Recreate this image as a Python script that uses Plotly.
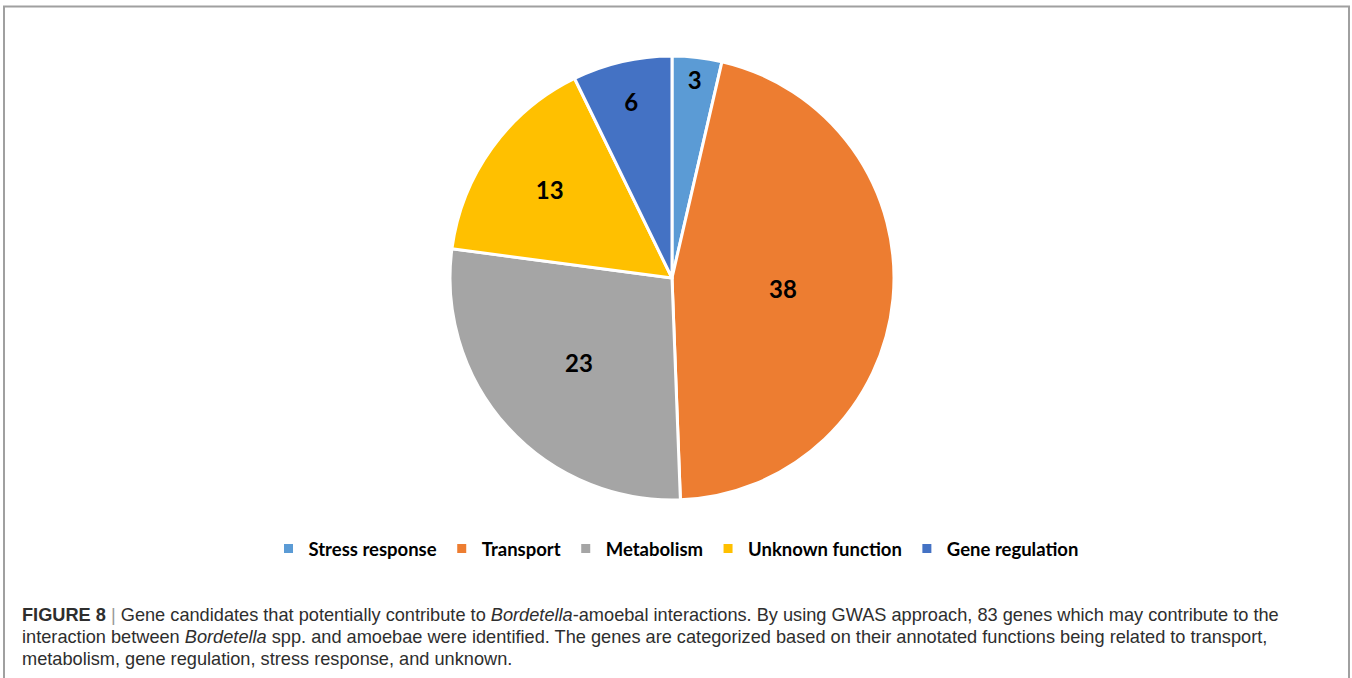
import plotly.graph_objects as go

categories = ["Stress response", "Transport", "Metabolism", "Unknown function", "Gene regulation"]
values = [3, 38, 23, 13, 6]
colors = ["#5B9BD5", "#ED7D31", "#A5A5A5", "#FFC000", "#4472C4"]

caption_lines = [
    "<b>FIGURE 8</b> <span style='color:#999'>|</span> Gene candidates that potentially contribute to <i>Bordetella</i>-amoebal interactions. By using GWAS approach, 83 genes which may contribute to the",
    "interaction between <i>Bordetella</i> spp. and amoebae were identified. The genes are categorized based on their annotated functions being related to transport,",
    "metabolism, gene regulation, stress response, and unknown.",
]

W, H = 1352, 678

fig = go.Figure()
fig.add_trace(go.Pie(
    labels=categories,
    values=values,
    sort=False,
    direction="clockwise",
    rotation=0,
    marker=dict(colors=colors, line=dict(color="white", width=3)),
    textinfo="value",
    textposition="inside",
    insidetextorientation="horizontal",
    textfont=dict(family="Lato", size=24, color="black", weight="bold"),
    domain=dict(x=[450 / W, 894 / W], y=[(H - 500) / H, (H - 56) / H]),
    hoverinfo="label+value",
))

fig.update_layout(
    width=W, height=H,
    margin=dict(l=0, r=0, t=0, b=0),
    paper_bgcolor="white",
    plot_bgcolor="white",
    showlegend=True,
    legend=dict(
        orientation="h",
        x=0.5, xanchor="center",
        y=(H - 549) / H, yanchor="middle",
        font=dict(family="Lato", size=18.5, color="black", weight="bold"),
        itemwidth=30,
        traceorder="normal",
    ),
    shapes=[dict(
        type="rect", xref="paper", yref="paper",
        x0=4 / W, x1=1349 / W, y0=-0.05, y1=(H - 6.5) / H,
        line=dict(color="#A0A0A0", width=2),
        fillcolor="rgba(0,0,0,0)",
        layer="below",
    )],
)

ys = [615, 637, 659]
for line, yy in zip(caption_lines, ys):
    fig.add_annotation(
        text=line, xref="paper", yref="paper",
        x=20 / W, y=(H - yy) / H, xanchor="left", yanchor="middle",
        showarrow=False, align="left",
        font=dict(family="Liberation Sans", size=18.2, color="#2E2E2E"),
    )

fig.write_html("out.html", config={"displayModeBar": False},
               post_script="document.body.style.margin='0px';")
